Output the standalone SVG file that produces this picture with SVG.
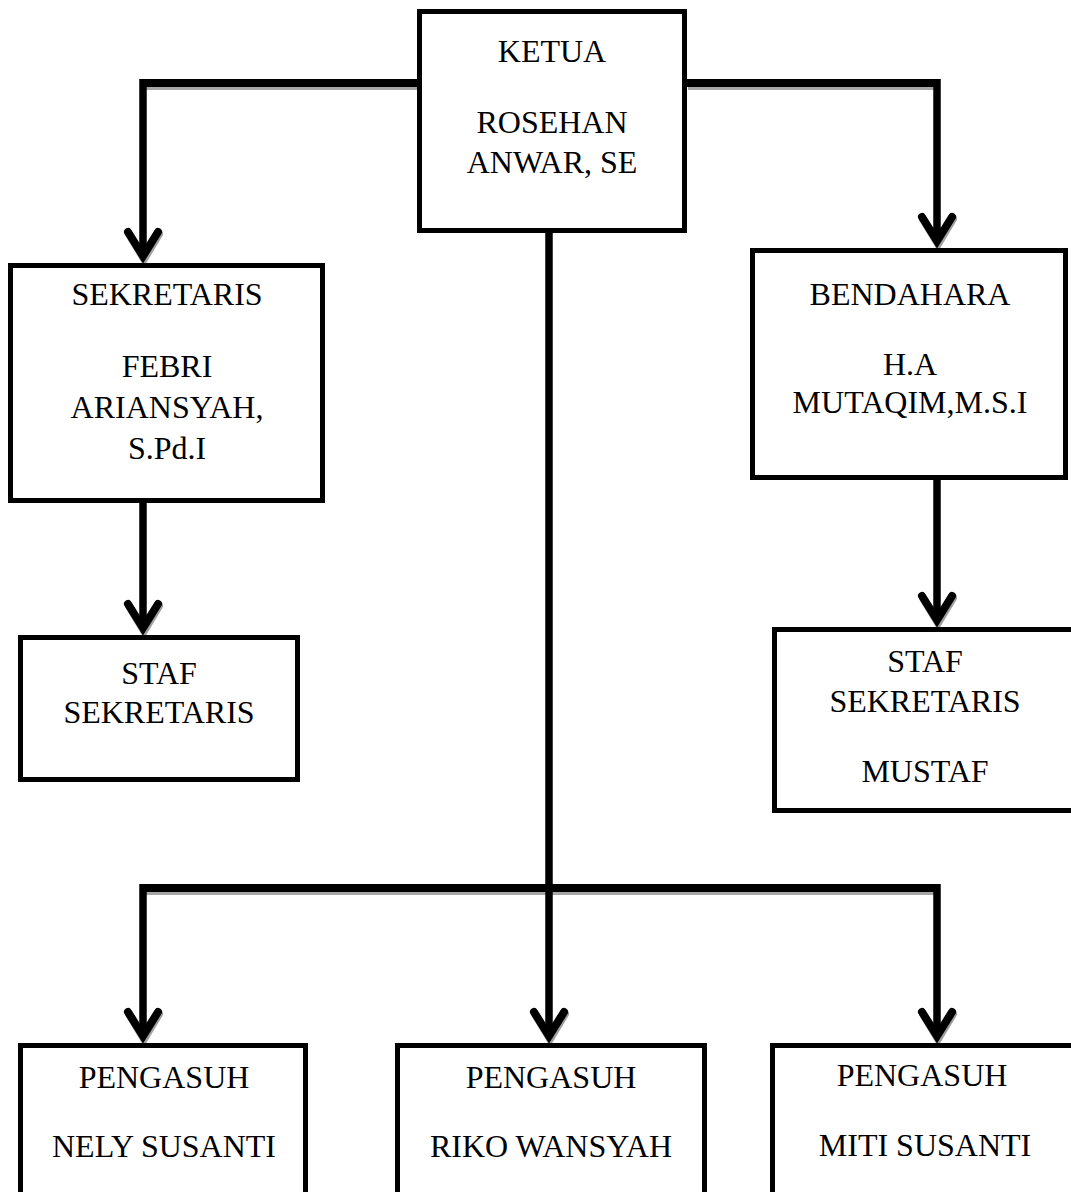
<svg xmlns="http://www.w3.org/2000/svg" xmlns:xlink="http://www.w3.org/1999/xlink" width="1071" height="1192" viewBox="0 0 1071 1192">
  <style>
    .box { fill: #ffffff; stroke: #000000; stroke-width: 5; }
    .lbl { font-family: "Liberation Serif", "Times New Roman", serif; font-size: 32px; fill: #000000; text-anchor: middle; }
    .wire { fill: none; stroke: #000000; stroke-width: 7.5; stroke-linejoin: miter; stroke-linecap: butt; }
    .wire-sh { fill: none; stroke: #a6a6a6; stroke-width: 8; stroke-linejoin: miter; }
    .hbar { stroke-width: 8; }
    .head { fill: none; stroke: #000000; stroke-width: 8; stroke-linecap: round; stroke-linejoin: miter; }
    .head-sh { fill: none; stroke: #a0a0a0; stroke-width: 8; stroke-linecap: round; stroke-linejoin: miter; }
  </style>
  <defs>
    <g id="arrowhead">
      <polyline class="head-sh" points="-14,-29 1,-4 16,-29"/>
      <polyline class="head" points="-15,-31 0,-7 15,-31"/>
    </g>
  </defs>
  <rect width="1071" height="1192" fill="#ffffff"/>

  <g id="connectors">
    <g transform="translate(1,3)">
      <path class="wire-sh" d="M417,83 H143"/>
      <path class="wire-sh" d="M687,83 H937"/>
      <path class="wire-sh" d="M143,888 H937"/>
    </g>
    <path class="wire hbar" d="M417,83 H143"/>
    <path class="wire" d="M143,79 V256"/>
    <path class="wire hbar" d="M687,83 H937"/>
    <path class="wire" d="M937,79 V241"/>
    <path class="wire" d="M143,503 V628"/>
    <path class="wire" d="M937,480 V620"/>
    <path class="wire" d="M549,232 V1036"/>
    <path class="wire hbar" d="M143,888 H937"/>
    <path class="wire" d="M143,884 V1036"/>
    <path class="wire" d="M937,884 V1036"/>
    <use xlink:href="#arrowhead" transform="translate(143,263)"/>
    <use xlink:href="#arrowhead" transform="translate(937,248)"/>
    <use xlink:href="#arrowhead" transform="translate(143,635)"/>
    <use xlink:href="#arrowhead" transform="translate(937,627)"/>
    <use xlink:href="#arrowhead" transform="translate(143,1043)"/>
    <use xlink:href="#arrowhead" transform="translate(549,1043)"/>
    <use xlink:href="#arrowhead" transform="translate(937,1043)"/>
  </g>

  <g id="ketua">
    <rect class="box" x="419.5" y="11.5" width="265" height="219"/>
    <text class="lbl" x="552" y="62">KETUA</text>
    <text class="lbl" x="552" y="133">ROSEHAN</text>
    <text class="lbl" x="552" y="173">ANWAR, SE</text>
  </g>

  <g id="sekretaris">
    <rect class="box" x="10.5" y="265.5" width="312" height="235"/>
    <text class="lbl" x="167" y="305">SEKRETARIS</text>
    <text class="lbl" x="167" y="377">FEBRI</text>
    <text class="lbl" x="167" y="418">ARIANSYAH,</text>
    <text class="lbl" x="167" y="459">S.Pd.I</text>
  </g>

  <g id="staf-sekretaris">
    <rect class="box" x="20.5" y="637.5" width="277" height="142"/>
    <text class="lbl" x="159" y="684">STAF</text>
    <text class="lbl" x="159" y="723">SEKRETARIS</text>
  </g>

  <g id="bendahara">
    <rect class="box" x="752.5" y="250.5" width="313" height="227"/>
    <text class="lbl" x="910" y="305">BENDAHARA</text>
    <text class="lbl" x="910" y="375">H.A</text>
    <text class="lbl" x="910" y="413">MUTAQIM,M.S.I</text>
  </g>

  <g id="staf-bendahara">
    <rect class="box" x="774.5" y="629.5" width="310" height="181"/>
    <text class="lbl" x="925" y="672">STAF</text>
    <text class="lbl" x="925" y="712">SEKRETARIS</text>
    <text class="lbl" x="925" y="782">MUSTAF</text>
  </g>

  <g id="pengasuh-1">
    <rect class="box" x="20.5" y="1045.5" width="285" height="200"/>
    <text class="lbl" x="164" y="1088">PENGASUH</text>
    <text class="lbl" x="164" y="1157">NELY SUSANTI</text>
  </g>

  <g id="pengasuh-2">
    <rect class="box" x="397.5" y="1045.5" width="307" height="200"/>
    <text class="lbl" x="551" y="1088">PENGASUH</text>
    <text class="lbl" x="551" y="1157">RIKO WANSYAH</text>
  </g>

  <g id="pengasuh-3">
    <rect class="box" x="772.5" y="1045.5" width="310" height="200"/>
    <text class="lbl" x="922" y="1086">PENGASUH</text>
    <text class="lbl" x="925" y="1156">MITI SUSANTI</text>
  </g>
</svg>
